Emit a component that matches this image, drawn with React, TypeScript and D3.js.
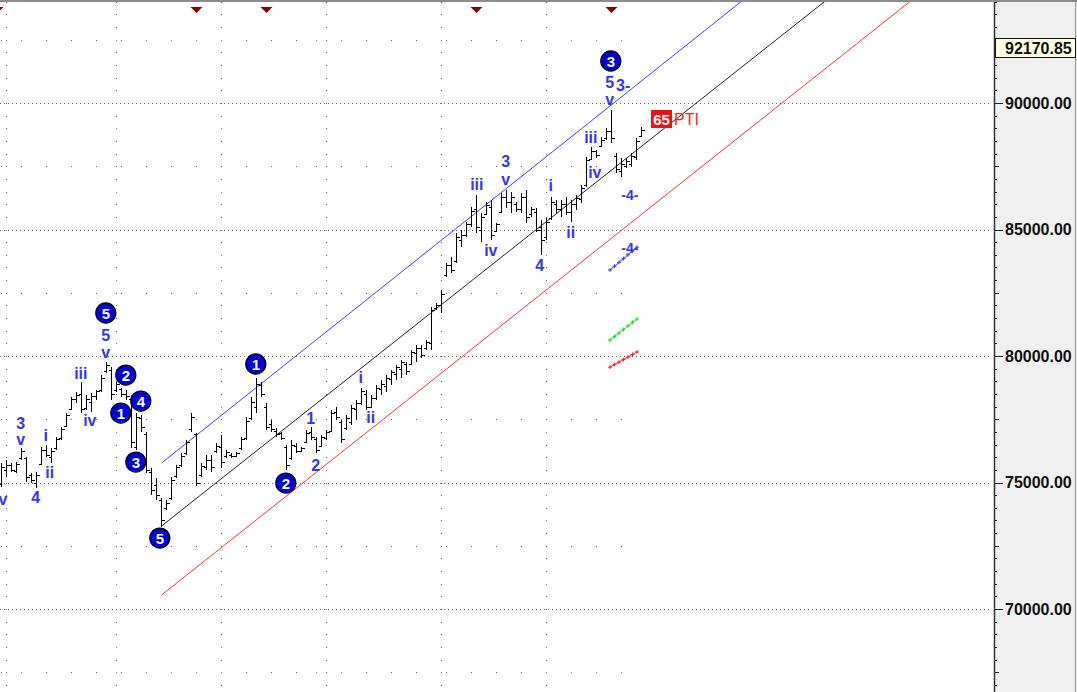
import React from 'react';
import * as d3 from 'd3';

const W = 1077;
const H = 692;
const PLOT_R = 994;

// OHLC bars (bar index = position)
const opens = [74950,75500,75700,75450,75950,75950,75300,75000,75750,76300,76000,76350,76750,77250,77900,78300,78500,77950,78200,78400,78650,79400,79450,78650,78700,78500,78300,76400,77550,76900,75400,74900,74300,74000,74400,75250,75700,76150,77100,76900,75300,75600,75900,76250,76400,76050,76100,76050,76350,76750,77550,78000,78850,78000,77300,77050,76950,76400,75950,76450,76250,76600,77000,76700,76450,76750,77050,77800,77400,77150,77400,77900,78150,78500,78000,78350,78700,78800,79100,79300,79500,79700,79700,80100,80300,80300,80500,81900,82000,83200,83600,83750,84600,84800,85200,85800,85000,85600,85900,84950,85700,86300,86100,86000,85800,86300,85600,85700,85100,84700,85450,86000,85800,86000,85700,86000,86200,86750,87800,88100,88300,88600,88900,87900,87300,87500,87600,87850,88700];
const highs = [75770,75890,75770,75810,76360,76010,75370,75410,76400,76480,76360,76800,77190,77750,78380,78580,78970,78460,78540,78660,79250,79760,79560,78970,78730,78660,78460,77750,77670,77000,75570,75180,74390,74310,75220,75690,76170,76680,77750,76950,75770,76090,76090,76560,76880,76280,76170,76200,76800,77590,78380,79130,78970,78140,77470,77150,77000,76480,76680,76560,76400,77070,77190,76800,76880,77070,77860,77980,77470,77670,78060,78260,78730,78660,78460,78850,79050,79250,79450,79640,79840,79760,80240,80430,80430,80630,81940,82090,82610,83680,83910,84860,84980,85300,85890,86360,85650,86090,86170,85260,86440,86560,86480,86090,86440,86560,85890,85850,85380,85450,86280,86170,86170,86280,86170,86360,86760,87870,88260,88140,88660,89010,89720,88020,87830,87830,88020,88620,89050];
const lows = [74820,75220,75410,75370,75890,75020,74980,74780,75690,76010,75770,76280,76680,77190,77860,78140,77750,77860,77800,78260,78580,79330,78260,78580,78380,78260,76360,76280,77000,75370,74500,74310,73240,73910,74310,75180,75610,76090,77000,74860,75220,75490,75410,76170,75570,75970,75970,76010,76280,76680,77470,77750,78380,77070,77000,76800,76680,75490,75890,76170,76200,76560,76680,76170,76400,76680,77000,77470,76560,77070,77270,77470,78060,77860,77940,78260,78460,78580,78850,79050,79130,79250,79640,79760,79920,80240,80240,81820,81700,83120,83280,83680,84310,84700,85100,84860,84510,85570,84580,84900,85650,85850,85650,85690,85650,85260,85490,84900,83990,84580,85380,85650,85490,85570,85300,85770,86050,86680,87750,87830,88260,88540,88420,87230,87080,87430,87470,87750,88660];
const closes = [75600,75700,75500,75750,76250,75200,75100,75300,76300,76100,76250,76700,77100,77650,78300,78450,77900,78300,78400,78600,79150,79650,78500,78900,78500,78400,76600,77600,77200,75500,74700,74500,73500,74200,75100,75600,76050,76600,77600,75000,75650,75900,75600,76450,75800,76200,76050,76150,76700,77450,78200,78900,78500,77200,77100,76900,76750,75700,76500,76250,76350,76950,76800,76300,76800,77000,77750,77600,76700,77550,77950,78150,78600,78000,78350,78750,78900,79150,79350,79550,79750,79400,80150,80300,80050,80550,81800,82000,82450,83600,83400,84700,84800,85200,85750,85100,85500,85950,84800,85200,86300,86100,86300,85800,86300,85500,85800,85000,84600,85300,86100,85800,86000,85700,86000,86250,86650,87750,88100,87950,88550,88900,88600,87400,87600,87700,87900,88500,88950];

// Grid / time markers (bar indices)
const monthBars = [1, 23, 44, 65, 88, 109];
const weekBars = [0, 4, 9, 14, 19, 24, 29, 34, 39, 44, 49, 54, 59, 63, 68, 73, 78, 83, 89, 94, 99, 104, 109, 114, 119, 124];
const markerBars = [-0.8, 39, 53, 95, 122];

// Price axis
const majorTicks = [70000, 75000, 80000, 85000, 90000];
const lastPrice = 92170.85;

// Channel (bar index, price)
const channelBars = [32, 200];
const blueChannel = [75770, 102200];
const blackChannel = [73280, 99540];
const redChannel = [70550, 96880];

// Wave labels: text, bar, price
const waveText = ['v','3','v','4','i','ii','iii','iv','5','v','1','2','i','ii','iii','3','v','iv','4','i','ii','iii','iv','5','v'];
const waveBar = [0.3,3.86,3.86,6.86,8.86,9.66,15.86,17.66,20.86,20.86,61.86,62.86,71.86,73.86,95.06,100.86,100.86,97.86,107.66,109.86,113.86,117.86,118.66,121.66,121.66];
const wavePrice = [74310,77350,76680,74425,76876,75414,79327,77469,80830,80157,77548,75690,79169,77588,86759,87668,86996,84189,83596,86720,84901,88656,87272,90791,90119];

// Circled wave labels
const circText = ['5','2','1','4','3','5','1','2','3'];
const circBar = [20.86,24.86,23.86,27.86,26.86,31.66,50.86,56.86,121.86];
const circPrice = [81699,79248,77746,78220,75809,72804,79683,74979,91660];

// Projection marks
const projBar = [121.7, 122.6, 123.5, 124.4, 125.3, 126.2, 127.1];
const projBlue = [83400, 83550, 83700, 83850, 84000, 84150, 84300];
const projGreen = [80630, 80770, 80910, 81050, 81190, 81330, 81460];
const projRed = [79560, 79660, 79760, 79860, 79960, 80060, 80160];

const x = d3.scaleLinear().domain([0, 128]).range([1.5, 641.5]);
const y = d3.scaleLinear().domain([70000, 90000]).range([609, 103]);

const LABEL_FONT = "'Liberation Sans', Arial, sans-serif";
const BLUE = '#3434ff';

export default function App() {
  const yMin = y.invert(H);
  const yMax = y.invert(0);
  const halfSteps = d3.range(Math.ceil(yMin / 500) * 500, yMax, 500);
  const minorRows = [67500, 72500, 77500, 82500, 87500, 92500];

  const chan = (vals: number[]) => {
    const line = d3.line<number>().x((_, i) => x(channelBars[i])).y((d) => y(d));
    return line(vals) || '';
  };

  const proj = (vals: number[], color: string) => (
    <g>
      <path d={d3.line<number>().x((_, i) => x(projBar[i])).y((d) => y(d))(vals) || ''} stroke={color} strokeWidth={1} fill="none" />
      {vals.map((v, i) => {
        const cx = x(projBar[i]);
        const cy = y(v);
        return (
          <g key={i} stroke={color} strokeWidth={1}>
            <line x1={cx - 2} x2={cx + 2} y1={cy} y2={cy} />
            <line x1={cx} x2={cx} y1={cy - 2} y2={cy + 2} />
          </g>
        );
      })}
    </g>
  );

  return (
    <svg width={W} height={H} style={{ position: 'absolute', left: 0, top: 0, display: 'block' }} xmlns="http://www.w3.org/2000/svg">
      <rect x={0} y={0} width={W} height={H} fill="#ffffff" />
      <defs>
        <clipPath id="plot">
          <rect x={0} y={2} width={PLOT_R} height={H - 2} />
        </clipPath>
      </defs>

      {/* major dotted horizontal grid */}
      {majorTicks.map((v) => (
        <line key={v} x1={0} x2={990} y1={Math.round(y(v)) + 0.5} y2={Math.round(y(v)) + 0.5} stroke="#666" strokeWidth={1} strokeDasharray="1 3" />
      ))}
      {/* monthly vertical dotted grid */}
      {monthBars.map((b) =>
        halfSteps.map((v) => (
          <rect key={b + '-' + v} x={x(b) - 0.5} y={Math.round(y(v))} width={1} height={1} fill="#666" />
        ))
      )}
      {/* weekly minor rows */}
      {minorRows.map((v) =>
        weekBars.map((b) => (
          <rect key={v + '-' + b} x={x(b) - 0.5} y={Math.round(y(v))} width={1} height={1} fill="#666" />
        ))
      )}

      <g clipPath="url(#plot)">
        {/* channel */}
        <path d={chan(blueChannel)} stroke="#3b3bff" strokeWidth={1} fill="none" />
        <path d={chan(blackChannel)} stroke="#222" strokeWidth={1} fill="none" />
        <path d={chan(redChannel)} stroke="#ff3030" strokeWidth={1} fill="none" />

        {/* bars */}
        {highs.map((h, i) => {
          const cx = x(i);
          return (
            <g key={i} stroke="#000" strokeWidth={1} shapeRendering="crispEdges">
              <line x1={cx} x2={cx} y1={y(h)} y2={y(lows[i])} />
              <line x1={cx - 3} x2={cx} y1={Math.round(y(opens[i])) + 0.5} y2={Math.round(y(opens[i])) + 0.5} />
              <line x1={cx} x2={cx + 3} y1={Math.round(y(closes[i])) + 0.5} y2={Math.round(y(closes[i])) + 0.5} />
            </g>
          );
        })}

        {/* projections */}
        {proj(projBlue, '#3b3bff')}
        {proj(projGreen, '#22dd22')}
        {proj(projRed, '#ff2020')}

        {/* markers */}
        {markerBars.map((b, i) => {
          const cx = x(b);
          return <path key={i} d={`M${cx - 6},7 L${cx + 6},7 L${cx},13 Z`} fill="#8b0000" />;
        })}

        {/* wave labels */}
        {waveText.map((t, i) => (
          <text key={i} x={x(waveBar[i])} y={y(wavePrice[i])} textAnchor="middle" dominantBaseline="central" fontFamily={LABEL_FONT} fontWeight="bold" fontSize={16} fill={BLUE}>
            {t}
          </text>
        ))}
        <text x={x(122.9)} y={y(90672)} textAnchor="start" dominantBaseline="central" fontFamily={LABEL_FONT} fontWeight="bold" fontSize={16} fill={BLUE}>3-</text>
        <text x={x(125.66)} y={y(86363)} textAnchor="middle" dominantBaseline="central" fontFamily={LABEL_FONT} fontWeight="bold" fontSize={14} fill={BLUE}>-4-</text>
        <text x={x(125.66)} y={y(84268)} textAnchor="middle" dominantBaseline="central" fontFamily={LABEL_FONT} fontWeight="bold" fontSize={14} fill={BLUE}>-4-</text>

        {/* circled labels */}
        {circText.map((t, i) => {
          const cx = x(circBar[i]);
          const cy = y(circPrice[i]);
          return (
            <g key={i}>
              <circle cx={cx} cy={cy} r={10} fill="#0000e0" stroke="#000" strokeWidth={1.3} />
              <text x={cx} y={cy + 0.5} textAnchor="middle" dominantBaseline="central" fontFamily={LABEL_FONT} fontWeight="bold" fontSize={15} fill="#fff">{t}</text>
            </g>
          );
        })}

        {/* PTI */}
        <rect x={651} y={110} width={21} height={18} fill="#ee1111" />
        <text x={661.5} y={119.5} textAnchor="middle" dominantBaseline="central" fontFamily={LABEL_FONT} fontWeight="bold" fontSize={15} fill="#fff">65</text>
        <text x={674} y={119.5} dominantBaseline="central" fontFamily={LABEL_FONT} fontSize={16} fill="#ff2020">PTI</text>
      </g>

      {/* top border */}
      <rect x={0} y={0} width={W} height={2} fill="#8c8c8c" />

      {/* price axis */}
      <rect x={PLOT_R} y={2} width={W - PLOT_R} height={H - 2} fill="#f0f0f0" />
      <line x1={PLOT_R + 0.5} x2={PLOT_R + 0.5} y1={2} y2={H} stroke="#333" strokeWidth={1.5} />
      <line x1={W - 1.5} x2={W - 1.5} y1={2} y2={H} stroke="#999" strokeWidth={1} />
      {halfSteps.map((v) => {
        const yy = Math.round(y(v)) + 0.5;
        const isMajor = v % 5000 === 0;
        const isMid = v % 2500 === 0;
        const len = isMajor ? 8 : isMid ? 4 : 2;
        return <line key={v} x1={PLOT_R + 1} x2={PLOT_R + 1 + len} y1={yy} y2={yy} stroke="#222" strokeWidth={1} />;
      })}
      {majorTicks.map((v) => (
        <text key={v} x={1005} y={y(v)} dominantBaseline="central" fontFamily={LABEL_FONT} fontWeight="bold" fontSize={16} fill="#111">
          {d3.format('.2f')(v)}
        </text>
      ))}
      <rect x={PLOT_R + 1.5} y={Math.round(y(lastPrice)) - 9.5} width={W - PLOT_R - 3} height={19} fill="#ffffe1" stroke="#111" strokeWidth={1} />
      <text x={1005} y={y(lastPrice) + 0.5} dominantBaseline="central" fontFamily={LABEL_FONT} fontWeight="bold" fontSize={16} fill="#111">
        {d3.format('.2f')(lastPrice)}
      </text>
    </svg>
  );
}
